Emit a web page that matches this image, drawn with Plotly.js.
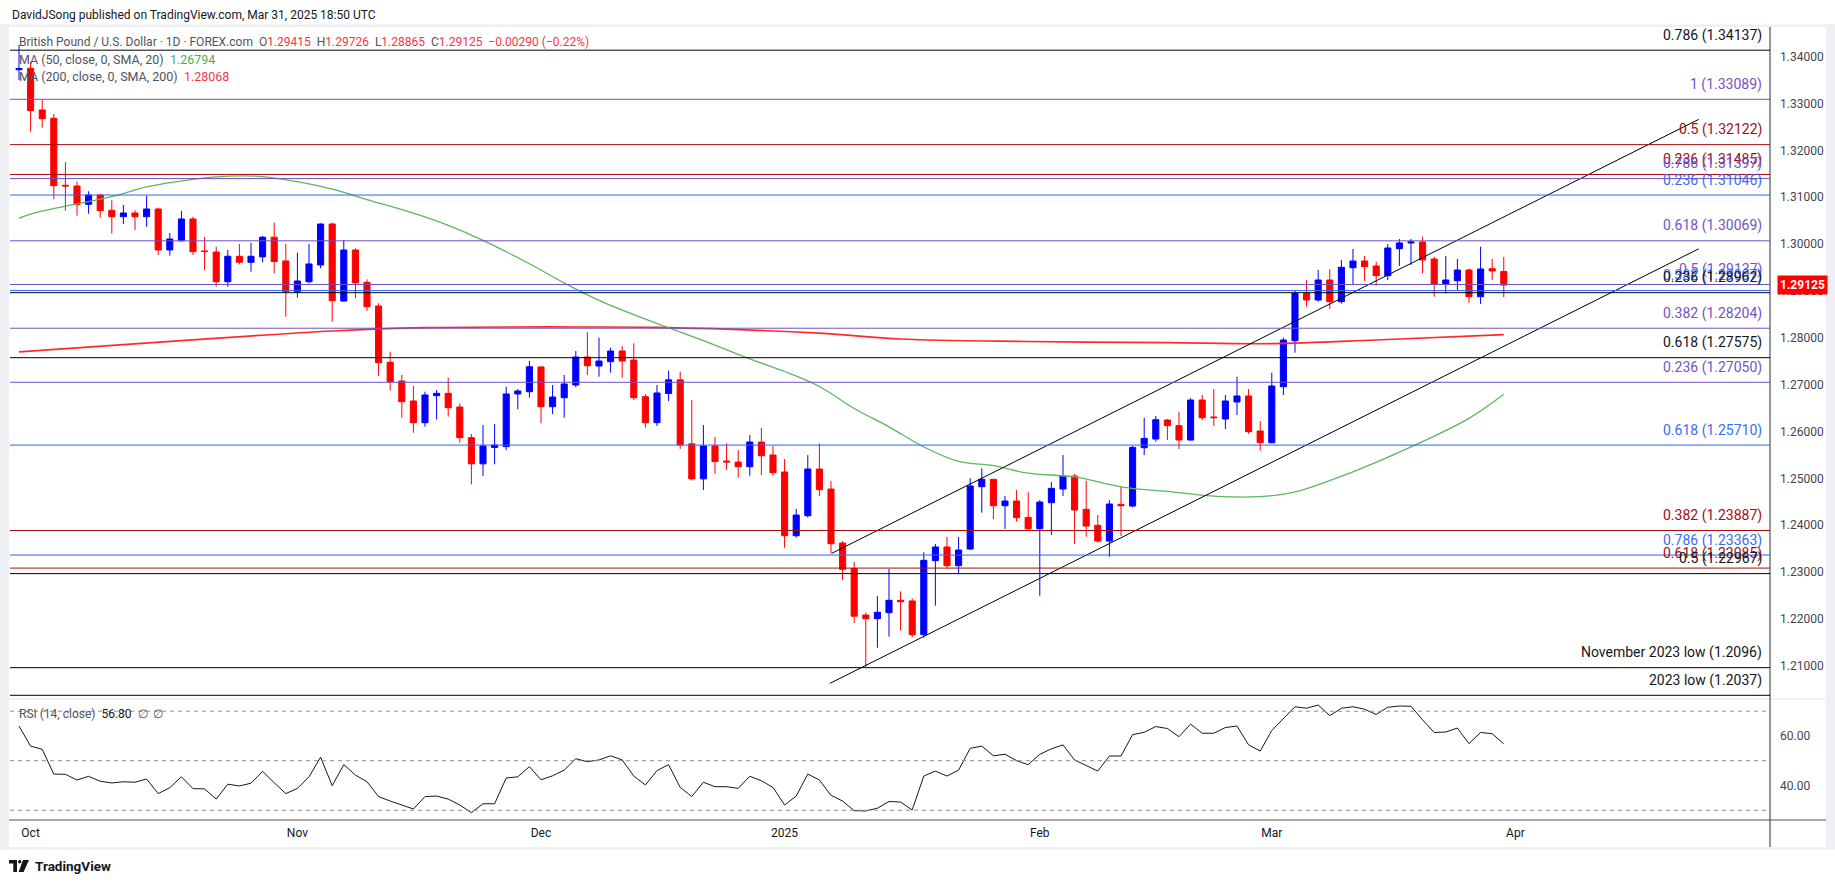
<!DOCTYPE html>
<html>
<head>
<meta charset="utf-8">
<script src="https://cdn.plot.ly/plotly-3.0.1.min.js"></script>
<style>
html,body{margin:0;padding:0;background:#fff;}
#chart{width:1835px;height:883px;}
</style>
</head>
<body>
<div id="chart"></div>
<script>
// ---------------- DATA ----------------
const dates = [
'2024-09-30',
'2024-10-01','2024-10-02','2024-10-03','2024-10-04','2024-10-07','2024-10-08','2024-10-09','2024-10-10','2024-10-11',
'2024-10-14','2024-10-15','2024-10-16','2024-10-17','2024-10-18','2024-10-21','2024-10-22','2024-10-23','2024-10-24',
'2024-10-25','2024-10-28','2024-10-29','2024-10-30','2024-10-31',
'2024-11-01','2024-11-04','2024-11-05','2024-11-06','2024-11-07','2024-11-08','2024-11-11','2024-11-12','2024-11-13',
'2024-11-14','2024-11-15','2024-11-18','2024-11-19','2024-11-20','2024-11-21','2024-11-22','2024-11-25','2024-11-26',
'2024-11-27','2024-11-28','2024-11-29',
'2024-12-02','2024-12-03','2024-12-04','2024-12-05','2024-12-06','2024-12-09','2024-12-10','2024-12-11','2024-12-12',
'2024-12-13','2024-12-16','2024-12-17','2024-12-18','2024-12-19','2024-12-20','2024-12-23','2024-12-24','2024-12-26',
'2024-12-27','2024-12-30','2024-12-31',
'2025-01-02','2025-01-03','2025-01-06','2025-01-07','2025-01-08','2025-01-09','2025-01-10','2025-01-13','2025-01-14',
'2025-01-15','2025-01-16','2025-01-17','2025-01-20','2025-01-21','2025-01-22','2025-01-23','2025-01-24','2025-01-27',
'2025-01-28','2025-01-29','2025-01-30','2025-01-31',
'2025-02-03','2025-02-04','2025-02-05','2025-02-06','2025-02-07','2025-02-10','2025-02-11','2025-02-12','2025-02-13',
'2025-02-14','2025-02-17','2025-02-18','2025-02-19','2025-02-20','2025-02-21','2025-02-24','2025-02-25','2025-02-26',
'2025-02-27','2025-02-28',
'2025-03-03','2025-03-04','2025-03-05','2025-03-06','2025-03-07','2025-03-10','2025-03-11','2025-03-12','2025-03-13',
'2025-03-14','2025-03-17','2025-03-18','2025-03-19','2025-03-20','2025-03-21','2025-03-24','2025-03-25','2025-03-26',
'2025-03-27','2025-03-28','2025-03-31'
];

const openP = [
1.33720,1.33751,1.32861,1.32684,1.31254,1.31239,1.30848,1.31047,1.30720,1.30584,
1.30663,1.30584,1.30748,1.29874,1.30072,1.30535,1.29852,1.29830,1.29196,1.29739,
1.29611,1.29726,1.30146,1.29640,1.28984,1.29196,1.29553,1.30428,1.28785,1.29873,
1.29184,1.28678,1.27477,1.27078,1.26651,1.26188,1.26764,1.26814,1.26522,1.25868,
1.25310,1.25660,1.25678,1.26801,1.26849,1.27377,1.26529,1.26721,1.26992,1.27589,
1.27397,1.27490,1.27717,1.27525,1.26743,1.26188,1.26811,1.27102,1.25736,1.24989,
1.25693,1.25370,1.25347,1.25248,1.25775,1.25497,1.25135,1.23776,1.24203,1.25199,
1.24772,1.23620,1.23076,1.22083,1.22005,1.22133,1.22397,1.22383,1.21664,1.23244,
1.23535,1.23136,1.23492,1.24822,1.24979,1.24416,1.24516,1.24167,1.23925,1.24480,
1.24772,1.25049,1.24338,1.23998,1.23663,1.24445,1.24409,1.25654,1.25839,1.26245,
1.26124,1.25818,1.26672,1.26310,1.26266,1.26630,1.26758,1.26011,1.25761,1.26956,
1.27937,1.28949,1.28806,1.29233,1.28770,1.29495,1.29638,1.29532,1.29325,1.29901,
1.30023,1.30044,1.29681,1.29148,1.29218,1.29446,1.28877,1.29474,1.29415];

const highP = [
1.34250,1.33891,1.33074,1.32775,1.31745,1.31331,1.31126,1.31069,1.30934,1.30833,
1.30720,1.31032,1.30776,1.30236,1.30706,1.30584,1.30150,1.29944,1.29873,1.30000,
1.30022,1.30172,1.30456,1.30000,1.29816,1.30000,1.30440,1.30460,1.30086,1.29909,
1.29248,1.28736,1.27703,1.27206,1.26971,1.26849,1.26885,1.27148,1.26600,1.25947,
1.26138,1.26160,1.26956,1.26907,1.27504,1.27390,1.26992,1.27206,1.27717,1.28123,
1.28002,1.27788,1.27824,1.27882,1.26800,1.26992,1.27298,1.27277,1.26672,1.26138,
1.25886,1.25748,1.25603,1.25924,1.26074,1.25689,1.25412,1.24345,1.25497,1.25748,
1.24943,1.23663,1.23218,1.22133,1.22489,1.23066,1.22589,1.22440,1.23422,1.23599,
1.23749,1.23749,1.25002,1.25213,1.24990,1.24622,1.24750,1.24707,1.24537,1.24922,
1.25497,1.25092,1.24950,1.24217,1.24537,1.24836,1.25690,1.26290,1.26330,1.26266,
1.26422,1.26708,1.26779,1.26907,1.26779,1.27169,1.26907,1.26224,1.27255,1.28002,
1.29019,1.29233,1.29446,1.29461,1.29660,1.29895,1.29745,1.29623,1.30001,1.30108,
1.30108,1.30157,1.29730,1.29745,1.29681,1.29482,1.29943,1.29681,1.29726];

const lowP = [
1.33500,1.32398,1.32483,1.30955,1.30712,1.30605,1.30648,1.30562,1.30221,1.30428,
1.30300,1.30370,1.29766,1.29751,1.30050,1.29766,1.29444,1.29090,1.29090,1.29568,
1.29410,1.29611,1.29376,1.28450,1.28855,1.29162,1.29482,1.28343,1.28770,1.28842,
1.28571,1.27184,1.26871,1.26294,1.25974,1.26102,1.26256,1.26316,1.25761,1.24870,
1.25050,1.25300,1.25600,1.26473,1.26721,1.26174,1.26373,1.26294,1.26943,1.27206,
1.27169,1.27255,1.27148,1.26672,1.26081,1.26116,1.26652,1.25629,1.24953,1.24751,
1.25093,1.25179,1.25014,1.25056,1.25071,1.25056,1.23520,1.23733,1.24160,1.24620,
1.23400,1.22831,1.21915,1.20981,1.21386,1.21622,1.21749,1.21608,1.21600,1.22282,
1.23080,1.22953,1.23471,1.24267,1.24132,1.23919,1.24075,1.23876,1.22496,1.23791,
1.24622,1.23599,1.23755,1.23627,1.23325,1.23770,1.24380,1.25497,1.25782,1.25818,
1.25626,1.25803,1.26245,1.26117,1.26053,1.26352,1.25950,1.25590,1.25750,1.26779,
1.27681,1.28663,1.28770,1.28614,1.28727,1.29148,1.29212,1.29111,1.29233,1.29532,
1.29553,1.29376,1.28877,1.28949,1.29019,1.28748,1.28721,1.29233,1.28865];

const closeP = [
1.33745,1.32846,1.32675,1.31245,1.31240,1.30840,1.31047,1.30712,1.30584,1.30663,
1.30584,1.30748,1.29874,1.30108,1.30535,1.29837,1.29840,1.29196,1.29739,1.29611,
1.29739,1.30146,1.29626,1.28984,1.29212,1.29575,1.30428,1.28791,1.29873,1.29175,
1.28663,1.27468,1.27063,1.26636,1.26188,1.26779,1.26814,1.26508,1.25868,1.25310,
1.25691,1.25710,1.26801,1.26865,1.27383,1.26529,1.26736,1.27014,1.27589,1.27404,
1.27504,1.27717,1.27504,1.26721,1.26188,1.26822,1.27102,1.25715,1.24989,1.25693,
1.25358,1.25350,1.25248,1.25775,1.25483,1.25120,1.23776,1.24217,1.25199,1.24758,
1.23605,1.23059,1.22058,1.22005,1.22142,1.22397,1.22368,1.21664,1.23251,1.23535,
1.23136,1.23471,1.24837,1.24979,1.24416,1.24516,1.24160,1.23925,1.24494,1.24786,
1.25049,1.24324,1.23982,1.23663,1.24452,1.24416,1.25661,1.25853,1.26250,1.26124,
1.25818,1.26672,1.26294,1.26295,1.26651,1.26758,1.25996,1.25761,1.26971,1.27952,
1.28949,1.28806,1.29233,1.28770,1.29504,1.29638,1.29517,1.29325,1.29916,1.30023,
1.30044,1.29660,1.29148,1.29233,1.29446,1.28877,1.29467,1.29425,1.29125];

const rsi = [
64.0,55.9,54.6,44.6,44.5,42.2,43.7,41.7,41.0,41.5,
41.3,42.6,36.7,39.1,43.5,38.7,38.6,34.5,40.5,39.8,
40.9,45.7,41.1,36.7,38.8,43.5,51.4,39.9,48.4,44.2,
41.5,35.5,33.7,32.0,30.5,35.5,35.7,34.5,32.1,29.0,
32.6,32.6,43.0,43.5,47.6,42.3,43.9,46.2,50.8,49.6,
50.3,52.0,50.3,43.8,40.2,46.0,48.4,39.2,35.5,41.3,
39.5,39.5,38.8,43.7,41.9,39.2,32.1,35.7,44.6,42.2,
36.0,33.7,29.8,29.7,30.8,33.5,33.3,30.1,43.8,45.8,
43.8,46.2,55.0,55.9,52.0,52.6,50.0,48.4,52.6,54.8,
56.4,50.3,47.9,45.8,51.9,51.9,60.5,61.5,63.8,63.0,
59.7,64.8,61.1,61.1,63.4,64.0,56.4,53.9,62.2,67.1,
71.8,71.2,72.5,68.2,71.2,71.8,70.8,68.7,71.6,72.1,
72.0,66.5,61.4,61.6,63.2,56.9,61.4,60.9,56.8];

// 50-day SMA, read at sample dates
const ma50Dates = ['2024-09-30','2024-10-01','2024-10-04','2024-10-10','2024-10-15','2024-10-21','2024-10-24','2024-10-29',
 '2024-11-01','2024-11-06','2024-11-11','2024-11-15','2024-11-20','2024-11-25','2024-11-29','2024-12-04','2024-12-09',
 '2024-12-13','2024-12-20','2024-12-27','2025-01-02','2025-01-07','2025-01-10','2025-01-15','2025-01-20','2025-01-23',
 '2025-01-28','2025-01-31','2025-02-06','2025-02-12','2025-02-18','2025-02-24','2025-02-28','2025-03-05','2025-03-12',
 '2025-03-19','2025-03-26','2025-03-31'];
const ma50Values = [1.3055,1.3064,1.3081,1.3101,1.3122,1.3138,1.3145,1.3144,
 1.3133,1.3117,1.3095,1.3066,1.3040,1.3008,1.2958,1.2917,1.2880,
 1.2840,1.2794,1.2755,1.2728,1.2696,1.2649,1.2610,1.2567,1.2536,
 1.2527,1.2511,1.2503,1.2482,1.2472,1.2462,1.2461,1.2471,1.2514,
 1.2567,1.2628,1.26794];

// 200-day SMA, read at sample dates
const ma200Dates = ['2024-09-30','2024-10-18','2024-11-06','2024-11-18','2024-12-06','2024-12-16','2025-01-07','2025-01-16',
 '2025-01-31','2025-02-18','2025-03-03','2025-03-14','2025-03-31'];
const ma200Values = [1.2770,1.2794,1.28145,1.28215,1.2823,1.2822,1.2810,1.27974,
 1.2792,1.27895,1.27874,1.27952,1.28068];

// Fibonacci / reference levels
const fibPrices = [1.34137,1.33089,1.32122,1.31485,1.31397,1.31046,1.30069,1.29137,1.29007,1.28962,
 1.28204,1.27575,1.27050,1.25710,1.23887,1.23363,1.23085,1.22967,1.2096,1.2037];
const fibLabels = ['0.786 (1.34137)','1 (1.33089)','0.5 (1.32122)','0.236 (1.31485)','0.786 (1.31397)',
 '0.236 (1.31046)','0.618 (1.30069)','0.5 (1.29137)','0.382 (1.29007)','0.236 (1.28962)',
 '0.382 (1.28204)','0.618 (1.27575)','0.236 (1.27050)','0.618 (1.25710)','0.382 (1.23887)',
 '0.786 (1.23363)','0.618 (1.23085)','0.5 (1.22967)','November 2023 low (1.2096)','2023 low (1.2037)'];
const fibSet = ['black','purple','darkred','darkred','purple','blue','purple','purple','blue','black',
 'purple','black','purple','blue','darkred','blue','darkred','black','black','black'];

// Ascending channel (bar position, price)
const channelBars = [70.06, 144.8];
const channelUpper = [1.2340, 1.3266];
const channelLowerBars = [69.9, 144.8];
const channelLower = [1.20624, 1.29898];

// Axis ticks
const monthStarts = ['2024-10-01','2024-11-01','2024-12-02','2025-01-02','2025-02-03','2025-03-03','2025-04-01'];
const monthLabels = ['Oct','Nov','Dec','2025','Feb','Mar','Apr'];
const priceTicks = [1.21,1.22,1.23,1.24,1.25,1.26,1.27,1.28,1.29,1.30,1.31,1.32,1.33,1.34];
const rsiTicks = [40,60];
const rsiLevels = [70,50,30];

// ---------------- STYLE ----------------
const setColor = {black:'#000000', purple:'#6f4fc0', darkred:'#a50d0d', blue:'#2962ff'};
const labelColor = {black:'#131722', purple:'#7352c7', darkred:'#a50d0d', blue:'#3a6cf4'};
const UP = '#0000ff', DOWN = '#ff0000';

// pixel helpers (plot area in page pixels)
const W = 1835, H = 883, PL = 10, PR = 1770, PT = 27, PB = 820;
const px = X => (X - PL) / (PR - PL);
const py = Y => (PB - Y) / (PB - PT);
const SP = '\u00A0\u00A0';

const idx = d => { const i = dates.indexOf(d); return i >= 0 ? i : dates.length; };
const barIdx = dates.map((d, i) => i);

const traces = [];
traces.push({
  type: 'candlestick', x: barIdx, open: openP, high: highP, low: lowP, close: closeP,
  xaxis: 'x', yaxis: 'y', hoverinfo: 'skip', whiskerwidth: 0,
  increasing: {line: {color: UP, width: 1}, fillcolor: UP},
  decreasing: {line: {color: DOWN, width: 1}, fillcolor: DOWN},
  showlegend: false
});
traces.push({
  type: 'scatter', mode: 'lines', x: ma200Dates.map(idx), y: ma200Values,
  line: {color: '#ff2a2a', width: 1.7, shape: 'spline', smoothing: 1.0},
  xaxis: 'x', yaxis: 'y', hoverinfo: 'skip', showlegend: false
});
traces.push({
  type: 'scatter', mode: 'lines', x: ma50Dates.map(idx), y: ma50Values,
  line: {color: '#5cb85c', width: 1.3, shape: 'spline', smoothing: 1.0},
  xaxis: 'x', yaxis: 'y', hoverinfo: 'skip', showlegend: false
});
traces.push({
  type: 'scatter', mode: 'lines', x: channelBars, y: channelUpper,
  line: {color: '#000', width: 1}, xaxis: 'x', yaxis: 'y', hoverinfo: 'skip', showlegend: false
});
traces.push({
  type: 'scatter', mode: 'lines', x: channelLowerBars, y: channelLower,
  line: {color: '#000', width: 1}, xaxis: 'x', yaxis: 'y', hoverinfo: 'skip', showlegend: false
});
traces.push({
  type: 'scatter', mode: 'lines', x: barIdx, y: rsi,
  line: {color: '#131722', width: 1}, xaxis: 'x', yaxis: 'y2', hoverinfo: 'skip', showlegend: false
});

const shapes = [];
// frame
const frame = '#eef0f3';
shapes.push({type:'rect', xref:'paper', yref:'paper', x0:px(0), x1:px(9), y0:py(850), y1:py(24), fillcolor:frame, line:{width:0}, layer:'below'});
shapes.push({type:'rect', xref:'paper', yref:'paper', x0:px(0), x1:px(W), y0:py(27), y1:py(24.5), fillcolor:frame, line:{width:0}, layer:'below'});
shapes.push({type:'rect', xref:'paper', yref:'paper', x0:px(0), x1:px(W), y0:py(850), y1:py(847), fillcolor:frame, line:{width:0}, layer:'below'});
shapes.push({type:'rect', xref:'paper', yref:'paper', x0:px(1826), x1:px(W), y0:py(850), y1:py(24), fillcolor:frame, line:{width:0}, layer:'below'});
// pane separator
shapes.push({type:'line', xref:'paper', yref:'paper', x0:px(9), x1:px(1826), y0:py(699), y1:py(699), line:{color:'#e0e3eb', width:1}});
// price-axis border
shapes.push({type:'line', xref:'paper', yref:'paper', x0:1, x1:1, y0:py(847), y1:py(27), line:{color:'#2a2e39', width:1}});
// time-axis line
shapes.push({type:'line', xref:'paper', yref:'paper', x0:px(9), x1:px(1826), y0:0, y1:0, line:{color:'#50535e', width:1}});
// RSI levels
rsiLevels.forEach(v => shapes.push({type:'line', xref:'paper', yref:'y2', x0:0, x1:1, y0:v, y1:v,
  line:{color:'#8a8d96', width:1, dash:'4px,4px'}}));
// fib lines
fibPrices.forEach((p, i) => shapes.push({type:'line', xref:'paper', yref:'y', x0:0, x1:1, y0:p, y1:p,
  line:{color:setColor[fibSet[i]], width:1}}));
// TradingView logo
shapes.push({type:'path', xref:'paper', yref:'paper',
  path:`M${px(9)},${py(860)} L${px(17)},${py(860)} L${px(17)},${py(872)} L${px(13.3)},${py(872)} L${px(13.3)},${py(863.6)} L${px(9)},${py(863.6)} Z`,
  fillcolor:'#131722', line:{width:0}});
shapes.push({type:'circle', xref:'paper', yref:'paper', x0:px(18), x1:px(21.4), y0:py(863.4), y1:py(860), fillcolor:'#131722', line:{width:0}});
shapes.push({type:'path', xref:'paper', yref:'paper',
  path:`M${px(23)},${py(860)} L${px(29)},${py(860)} L${px(23.6)},${py(872)} L${px(18.6)},${py(872)} Z`,
  fillcolor:'#131722', line:{width:0}});

const annotations = [];
// fib labels
fibPrices.forEach((p, i) => annotations.push({
  xref:'paper', yref:'y', x:1, y:p, xanchor:'right', yanchor:'middle', xshift:-6, yshift:15,
  text: fibLabels[i], showarrow:false, font:{size:14, color:labelColor[fibSet[i]]}
}));
// header
annotations.push({xref:'paper', yref:'paper', x:px(10), y:py(14.5), xanchor:'left', yanchor:'middle', showarrow:false,
  text:'DavidJSong published on TradingView.com, Mar 31, 2025 18:50 UTC', font:{size:12, color:'#131722'}});
const g = '#50535e', rd = '#f23645';
const fmt = v => v.toFixed(5);
const last = closeP.length - 1;
annotations.push({xref:'paper', yref:'paper', x:px(17), y:py(41.7), xanchor:'left', yanchor:'middle', showarrow:false,
  text:`<span style="color:${g}">British Pound / U.S. Dollar · 1D · FOREX.com${SP}O</span><span style="color:${rd}">${fmt(openP[last])}</span><span style="color:${g}">${SP}H</span><span style="color:${rd}">${fmt(highP[last])}</span><span style="color:${g}">${SP}L</span><span style="color:${rd}">${fmt(lowP[last])}</span><span style="color:${g}">${SP}C</span><span style="color:${rd}">${fmt(closeP[last])}${SP}−0.00290 (−0.22%)</span>`,
  font:{size:12}});
annotations.push({xref:'paper', yref:'paper', x:px(17), y:py(59.3), xanchor:'left', yanchor:'middle', showarrow:false,
  text:`<span style="color:${g}">MA (50, close, 0, SMA, 20)${SP}</span><span style="color:#4caf50">${fmt(ma50Values[ma50Values.length-1])}</span>`, font:{size:12.5}});
annotations.push({xref:'paper', yref:'paper', x:px(17), y:py(76.3), xanchor:'left', yanchor:'middle', showarrow:false,
  text:`<span style="color:${g}">MA (200, close, 0, SMA, 200)${SP}</span><span style="color:${rd}">${fmt(ma200Values[ma200Values.length-1])}</span>`, font:{size:12.5}});
annotations.push({xref:'paper', yref:'paper', x:px(17), y:py(714), xanchor:'left', yanchor:'middle', showarrow:false,
  text:`<span style="color:${g}">RSI (14, close)${SP}</span><span style="color:#131722">${rsi[last].toFixed(2)}</span><span style="color:${g}">${SP}∅${SP}∅</span>`, font:{size:12}});
// last price box
annotations.push({xref:'paper', yref:'y', x:1, y:closeP[last], xanchor:'left', yanchor:'middle', xshift:7, showarrow:false,
  text:`<b>${fmt(closeP[last])}</b>`, bgcolor:'#ff0000', borderpad:2, font:{size:12, color:'#ffffff'}});
// TradingView wordmark
annotations.push({xref:'paper', yref:'paper', x:px(33), y:py(866), xanchor:'left', yanchor:'middle', showarrow:false,
  text:'<b>TradingView</b>', font:{size:13.5, color:'#131722'}});

const layout = {
  width: W, height: H,
  margin: {l: PL, r: W - PR, t: PT, b: H - PB, pad: 0},
  paper_bgcolor: '#ffffff', plot_bgcolor: '#ffffff',
  font: {family: 'Roboto, "Liberation Sans", Arial, sans-serif', color: '#131722'},
  showlegend: false, hovermode: false, boxgap: 0.25,
  xaxis: {
    domain: [0, 1], anchor: 'y2', range: [-0.776, 150.95], type: 'linear',
    showgrid: false, zeroline: false, showline: false, ticks: '',
    tickvals: monthStarts.map(idx), ticktext: monthLabels,
    tickfont: {size: 12, color: '#131722'}, ticklabelstandoff: 4,
    rangeslider: {visible: false}, fixedrange: true
  },
  yaxis: {
    domain: [py(697), 1], range: [1.20334, 1.34632], side: 'right', anchor: 'x',
    showgrid: false, zeroline: false, showline: false, ticks: '',
    tickvals: priceTicks, tickformat: '.5f',
    tickfont: {size: 12, color: '#434651'}, ticklabelstandoff: 9, fixedrange: true
  },
  yaxis2: {
    domain: [0, py(700)], range: [26.04, 74.53], side: 'right', anchor: 'x',
    showgrid: false, zeroline: false, showline: false, ticks: '',
    tickvals: rsiTicks, tickformat: '.2f',
    tickfont: {size: 12, color: '#434651'}, ticklabelstandoff: 9, fixedrange: true
  },
  shapes: shapes,
  annotations: annotations
};

Plotly.newPlot('chart', traces, layout, {displayModeBar: false, staticPlot: true});
</script>
</body>
</html>
